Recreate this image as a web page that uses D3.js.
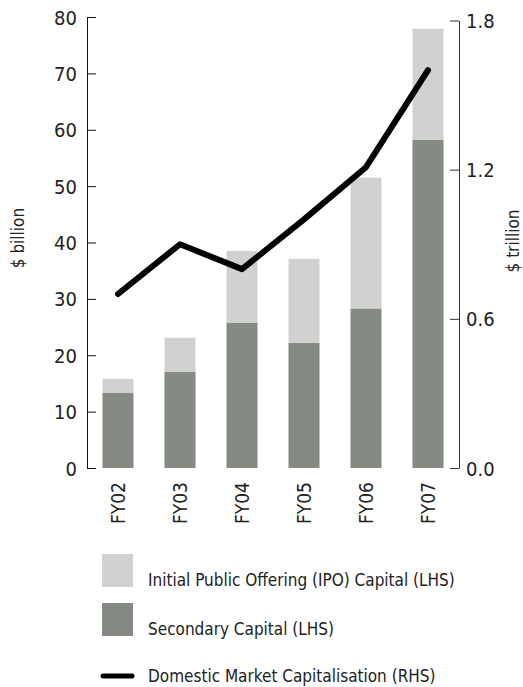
<!DOCTYPE html>
<html>
<head>
<meta charset="utf-8">
<script src="https://cdn.jsdelivr.net/npm/d3@7"></script>
<style>
  body { margin: 0; background: #fff; }
  svg text { font-family: "Liberation Sans Narrow", "DejaVu Sans Condensed", "Roboto", sans-serif; fill: #222; }
</style>
</head>
<body>
<div id="chart"></div>
<script>
var years = ["FY02", "FY03", "FY04", "FY05", "FY06", "FY07"];
var secondary = [13.3, 17.1, 25.8, 22.2, 28.3, 58.2];
var ipo = [2.5, 6.0, 12.7, 14.9, 23.2, 19.7];
var marketCap = [0.70, 0.90, 0.80, 1.00, 1.21, 1.60];
var leftTicks = [0, 10, 20, 30, 40, 50, 60, 70, 80];
var rightTicks = [0, 0.6, 1.2, 1.8];

var width = 523, height = 687;
var svg = d3.select("#chart").append("svg")
    .attr("width", width)
    .attr("height", height);

var x = d3.scaleBand()
    .domain(years)
    .range([87, 459])
    .paddingInner(0.5)
    .paddingOuter(0.25);

var yL = d3.scaleLinear().domain([0, 80]).range([468, 17]);
var yR = d3.scaleLinear().domain([0, 1.8]).range([468, 20.5]);

var lightCol = "#d0d2cf", darkCol = "#858a82";

// bars
var g = svg.append("g");
g.selectAll("rect.sec")
    .data(years)
    .enter().append("rect")
    .attr("class", "sec")
    .attr("x", function(d) { return x(d); })
    .attr("width", x.bandwidth())
    .attr("y", function(d, i) { return yL(secondary[i]); })
    .attr("height", function(d, i) { return yL(0) - yL(secondary[i]); })
    .attr("fill", darkCol);

g.selectAll("rect.ipo")
    .data(years)
    .enter().append("rect")
    .attr("class", "ipo")
    .attr("x", function(d) { return x(d); })
    .attr("width", x.bandwidth())
    .attr("y", function(d, i) { return yL(secondary[i] + ipo[i]); })
    .attr("height", function(d, i) { return yL(secondary[i]) - yL(secondary[i] + ipo[i]); })
    .attr("fill", lightCol);

// left axis
var leftAxis = svg.append("g")
    .attr("transform", "translate(87,0)")
    .call(d3.axisRight(yL).tickValues(leftTicks).tickSize(9).tickSizeOuter(0));
leftAxis.select(".domain").attr("stroke", "#111");
leftAxis.selectAll(".tick line").attr("stroke", "#111");
leftAxis.selectAll(".tick text")
    .attr("x", -10)
    .attr("text-anchor", "end")
    .attr("font-size", 20)
    .attr("dy", "0.35em");

// right axis
var rightAxis = svg.append("g")
    .attr("transform", "translate(459,0)")
    .call(d3.axisLeft(yR).tickValues(rightTicks).tickSize(9).tickSizeOuter(0)
        .tickFormat(d3.format(".1f")));
rightAxis.select(".domain").attr("stroke", "#333");
rightAxis.selectAll(".tick line").attr("stroke", "#333");
rightAxis.selectAll(".tick text")
    .attr("x", 7)
    .attr("text-anchor", "start")
    .attr("font-size", 20)
    .attr("dy", "0.35em");

// x labels
svg.selectAll("text.xl")
    .data(years)
    .enter().append("text")
    .attr("class", "xl")
    .attr("transform", function(d) {
        return "translate(" + (x(d) + x.bandwidth() / 2 + 7) + ",482) rotate(-90)";
    })
    .attr("text-anchor", "end")
    .attr("font-size", 19)
    .text(function(d) { return d; });

// axis titles
svg.append("text")
    .attr("transform", "translate(24,238) rotate(-90)")
    .attr("text-anchor", "middle")
    .attr("font-size", 17)
    .text("$ billion");
svg.append("text")
    .attr("transform", "translate(519,241) rotate(-90)")
    .attr("text-anchor", "middle")
    .attr("font-size", 17)
    .text("$ trillion");

// market cap line
var line = d3.line()
    .x(function(d, i) { return x(years[i]) + x.bandwidth() / 2; })
    .y(function(d) { return yR(d); });

svg.append("path")
    .datum(marketCap)
    .attr("d", line)
    .attr("fill", "none")
    .attr("stroke", "#000")
    .attr("stroke-width", 6)
    .attr("stroke-linecap", "round")
    .attr("stroke-linejoin", "round");

// legend
var legend = svg.append("g").attr("transform", "translate(102,0)");
legend.append("rect").attr("x", 0).attr("y", 554).attr("width", 31).attr("height", 33).attr("fill", lightCol);
legend.append("text").attr("x", 46).attr("y", 586).attr("font-size", 17)
    .text("Initial Public Offering (IPO) Capital (LHS)");
legend.append("rect").attr("x", 0).attr("y", 603).attr("width", 31).attr("height", 33).attr("fill", darkCol);
legend.append("text").attr("x", 46).attr("y", 635).attr("font-size", 17)
    .text("Secondary Capital (LHS)");
legend.append("line").attr("x1", 1).attr("x2", 30).attr("y1", 676).attr("y2", 676)
    .attr("stroke", "#000").attr("stroke-width", 5).attr("stroke-linecap", "round");
legend.append("text").attr("x", 46).attr("y", 682).attr("font-size", 17)
    .text("Domestic Market Capitalisation (RHS)");
</script>
</body>
</html>
